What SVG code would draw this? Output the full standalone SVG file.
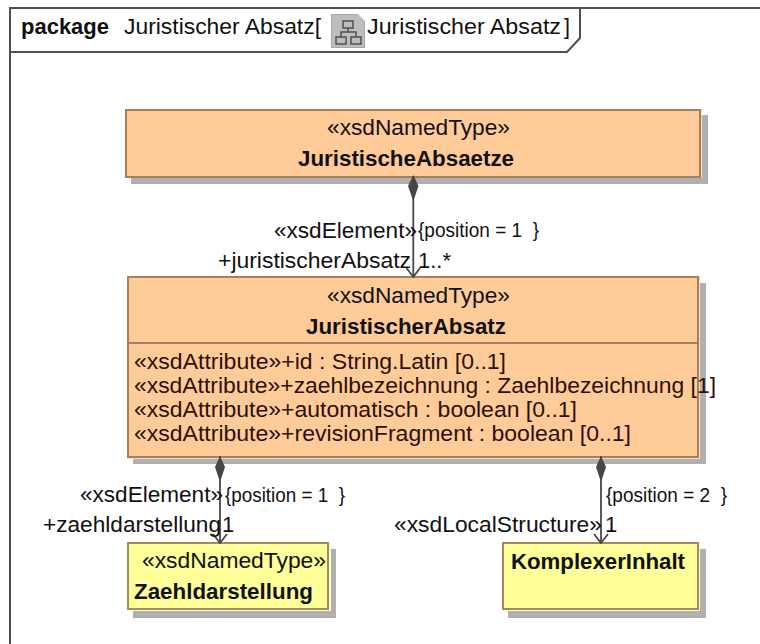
<svg xmlns="http://www.w3.org/2000/svg" width="760" height="644" viewBox="0 0 760 644">
<style>
text{font-family:"Liberation Sans",Arial,sans-serif;fill:#111;font-size:22px;white-space:pre}
.s{font-size:19.500px}
.b{font-weight:bold}
.a{fill:#2e0f08}
.shadow{fill:#b0b0b0}
.orange{fill:#ffcc99;stroke:#a5805f;stroke-width:2}
.halo{fill:#ffdcb8}
.yellow{fill:#ffff99;stroke:#a08a60;stroke-width:2}
.line{stroke:#474747;stroke-width:1.8;fill:none}
.dia{fill:#474747}
</style>
<rect width="760" height="644" fill="#fff"/>
<g id="frame">
<path d="M10 644V8H760" fill="none" stroke="#505050" stroke-width="2"/>
<path d="M10 52H567L580 38V8" fill="none" stroke="#505050" stroke-width="2"/>
<text x="21" y="33.500" class="b" textLength="88" lengthAdjust="spacingAndGlyphs">package</text>
<text x="124" y="33.500" textLength="197" lengthAdjust="spacingAndGlyphs">Juristischer Absatz[</text>
<rect x="331.500" y="14.500" width="33" height="33" fill="#bdbdbd" stroke="#a8a8a8"/>
<path d="M358 14L365 21V14Z" fill="#fff"/>
<g fill="none" stroke="#505050" stroke-width="1.5"><rect x="343" y="21" width="10" height="7"/><rect x="336" y="37" width="10" height="7"/><rect x="351" y="37" width="10" height="7"/><path d="M348 28V32M341 37V32H356V37"/></g>
<text x="367" y="33.500" textLength="194" lengthAdjust="spacingAndGlyphs">Juristischer Absatz</text>
<text x="564" y="33.500" textLength="6" lengthAdjust="spacingAndGlyphs">]</text>
</g>
<g id="JuristischeAbsaetze">
<rect x="131" y="115" width="577" height="69" class="shadow"/>
<rect x="125" y="109" width="577" height="69" class="halo"/>
<rect x="126" y="110" width="574" height="67" class="orange"/>
<text x="327" y="135" textLength="183" lengthAdjust="spacingAndGlyphs">«xsdNamedType»</text>
<text x="298" y="165.500" class="b" textLength="216" lengthAdjust="spacingAndGlyphs">JuristischeAbsaetze</text>
</g>
<g id="JuristischerAbsatz">
<rect x="133" y="283" width="573" height="181" class="shadow"/>
<rect x="127" y="276" width="573" height="183" class="halo"/>
<rect x="128" y="277" width="570" height="180" class="orange"/>
<path d="M128 343H698" stroke="#a5805f" stroke-width="2"/>
<text x="327" y="303" textLength="183" lengthAdjust="spacingAndGlyphs">«xsdNamedType»</text>
<text x="306" y="333.500" class="b" textLength="200" lengthAdjust="spacingAndGlyphs">JuristischerAbsatz</text>
<text x="134" y="369" class="a" textLength="372" lengthAdjust="spacingAndGlyphs">«xsdAttribute»+id : String.Latin [0..1]</text>
<text x="134" y="393" class="a" textLength="582" lengthAdjust="spacingAndGlyphs">«xsdAttribute»+zaehlbezeichnung : Zaehlbezeichnung [1]</text>
<text x="134" y="417" class="a" textLength="443" lengthAdjust="spacingAndGlyphs">«xsdAttribute»+automatisch : boolean [0..1]</text>
<text x="134" y="441" class="a" textLength="497" lengthAdjust="spacingAndGlyphs">«xsdAttribute»+revisionFragment : boolean [0..1]</text>
</g>
<g id="Zaehldarstellung">
<rect x="133" y="549" width="203" height="69" class="shadow"/>
<rect x="127" y="542" width="204" height="69" fill="#ffffc4"/>
<rect x="128" y="543" width="200" height="66" class="yellow"/>
<text x="142" y="567.500" textLength="184" lengthAdjust="spacingAndGlyphs">«xsdNamedType»</text>
<text x="134" y="598.500" class="b" textLength="179" lengthAdjust="spacingAndGlyphs">Zaehldarstellung</text>
</g>
<g id="KomplexerInhalt">
<rect x="508" y="549" width="198" height="69" class="shadow"/>
<rect x="502" y="542" width="198" height="69" fill="#ffffc4"/>
<rect x="503" y="543" width="195" height="66" class="yellow"/>
<text x="511" y="568.500" class="b" textLength="174" lengthAdjust="spacingAndGlyphs">KomplexerInhalt</text>
</g>
<g id="connectors">
<path d="M413.300 176V277" class="line"/><path d="M413.300 175L418.500 186L413.300 201L408 186Z" class="dia"/><path d="M406.500 268L413.300 277L420 268" class="line"/>
<path d="M220 456V543" class="line"/><path d="M220 456L225 467L220 482L215 467Z" class="dia"/><path d="M213 534L220 543L227 534" class="line"/>
<path d="M601 456V543" class="line"/><path d="M601 456L606 467L601 482L596 467Z" class="dia"/><path d="M594 534L601 543L608 534" class="line"/>
</g>
<g id="labels">
<text x="274" y="237.500" textLength="143" lengthAdjust="spacingAndGlyphs">«xsdElement»</text>
<text x="418" y="236.500" class="s" textLength="121" lengthAdjust="spacingAndGlyphs">{position = 1  }</text>
<text x="218" y="267.500" textLength="193" lengthAdjust="spacingAndGlyphs">+juristischerAbsatz</text>
<text x="418" y="267.500" textLength="33" lengthAdjust="spacingAndGlyphs">1..*</text>
<text x="80" y="502" textLength="143" lengthAdjust="spacingAndGlyphs">«xsdElement»</text>
<text x="225" y="501.500" class="s" textLength="120" lengthAdjust="spacingAndGlyphs">{position = 1  }</text>
<text x="43" y="532" textLength="178" lengthAdjust="spacingAndGlyphs">+zaehldarstellung</text>
<text x="222" y="532">1</text>
<text x="606" y="501.500" class="s" textLength="121" lengthAdjust="spacingAndGlyphs">{position = 2  }</text>
<text x="394" y="532" textLength="208" lengthAdjust="spacingAndGlyphs">«xsdLocalStructure»</text>
<text x="605" y="532">1</text>
</g>
</svg>
